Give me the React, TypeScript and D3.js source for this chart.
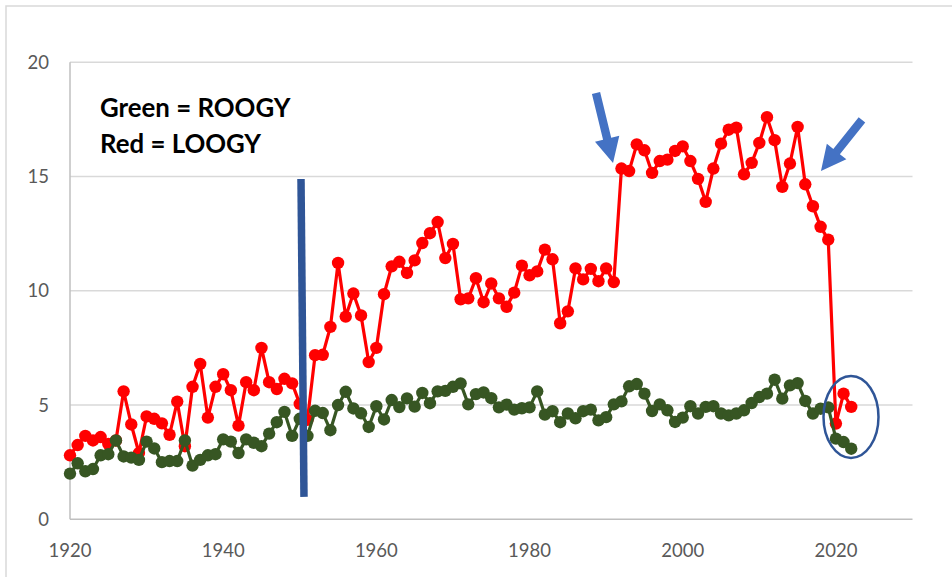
import React from "react";
import * as d3 from "d3";

const startYear = 1920;
const red: number[] = [
  2.8, 3.25, 3.65, 3.45, 3.6, 3.3, 3.45, 5.6, 4.15, 2.9,
  4.5, 4.4, 4.2, 3.7, 5.15, 3.2, 5.8, 6.8, 4.45, 5.8,
  6.35, 5.65, 4.1, 6.0, 5.65, 7.5, 6.0, 5.7, 6.15, 5.95,
  5.05, 4.35, 7.18, 7.2, 8.42, 11.22, 8.87, 9.88, 8.92, 6.88,
  7.5, 9.85, 11.07, 11.27, 10.78, 11.33, 12.09, 12.52, 13.01, 11.43,
  12.05, 9.63, 9.67, 10.55, 9.5, 10.32, 9.67, 9.3, 9.92, 11.1,
  10.68, 10.85, 11.8, 11.38, 8.58, 9.1, 10.98, 10.5, 10.96, 10.42,
  10.98, 10.38, 15.35, 15.24, 16.41, 16.15, 15.16, 15.68, 15.74, 16.12,
  16.32, 15.68, 14.9, 13.89, 15.35, 16.44, 17.05, 17.14, 15.1, 15.6,
  16.47, 17.6, 16.59, 14.55, 15.57, 17.17, 14.66, 13.7, 12.8, 12.24,
  4.19, 5.5, 4.92,
];
const green: number[] = [
  2.0, 2.45, 2.1, 2.2, 2.8, 2.85, 3.45, 2.75, 2.7, 2.6,
  3.4, 3.1, 2.5, 2.55, 2.55, 3.45, 2.35, 2.6, 2.8, 2.85,
  3.5, 3.4, 2.9, 3.5, 3.35, 3.2, 3.75, 4.25, 4.7, 3.65,
  4.4, 3.65, 4.75, 4.65, 3.9, 5.0, 5.58, 4.85, 4.64, 4.04,
  4.95, 4.37, 5.22, 4.91, 5.29, 4.93, 5.53, 5.08, 5.6, 5.62,
  5.8, 5.95, 5.03, 5.48, 5.55, 5.3, 4.9, 5.02, 4.8, 4.86,
  4.9, 5.6, 4.58, 4.73, 4.25, 4.63, 4.42, 4.73, 4.8, 4.33,
  4.47, 5.03, 5.16, 5.82, 5.92, 5.5, 4.74, 5.03, 4.77, 4.26,
  4.45, 4.95, 4.63, 4.92, 4.95, 4.63, 4.55, 4.63, 4.77, 5.09,
  5.35, 5.5, 6.11, 5.28, 5.86, 5.96, 5.18, 4.63, 4.84, 4.9,
  3.53, 3.38, 3.09,
];
const xTicks: number[] = [1920, 1940, 1960, 1980, 2000, 2020];
const yTicks: number[] = [0, 5, 10, 15, 20];
const legendLines: string[] = ["Green = ROOGY", "Red = LOOGY"];

// annotation anchors in data units: [year, value]
const divider: [number, number][] = [[1950.16, 14.89], [1950.55, 0.98]];
const arrows: [number, number, number, number][] = [
  [1988.68, 18.66, 1990.9, 15.59],
  [2023.4, 17.48, 2018.05, 15.24],
];
const circleAnchor: [number, number] = [2021.97, 4.48];

const W = 952;
const H = 577;

function arrowPath(x1: number, y1: number, x2: number, y2: number) {
  const dx = x2 - x1, dy = y2 - y1;
  const len = Math.hypot(dx, dy);
  const ux = dx / len, uy = dy / len;
  const nx = -uy, ny = ux;
  const shaftW = 4.2, headW = 12.5, headL = 25;
  const bx = x2 - ux * headL, by = y2 - uy * headL;
  const pts = [
    [x1 + nx * shaftW, y1 + ny * shaftW],
    [bx + nx * shaftW, by + ny * shaftW],
    [bx + nx * headW, by + ny * headW],
    [x2, y2],
    [bx - nx * headW, by - ny * headW],
    [bx - nx * shaftW, by - ny * shaftW],
    [x1 - nx * shaftW, y1 - ny * shaftW],
  ];
  return "M" + pts.map((p) => p.join(",")).join("L") + "Z";
}

export default function App() {
  const x = d3.scaleLinear().domain([1920, 2030]).range([70, 912.5]);
  const y = d3.scaleLinear().domain([0, 20]).range([519.3, 62.3]);
  const years = red.map((_, i) => startYear + i);
  const line = d3
    .line<number>()
    .x((_, i) => x(years[i]))
    .y((d) => y(d));

  const font = "Lato, 'Open Sans', sans-serif";

  return (
    <svg
      width={W}
      height={H}
      style={{ position: "absolute", left: 0, top: 0, background: "#fff" }}
    >
      <rect x={0} y={0} width={W} height={H} fill="#fff" />
      {/* chart frame */}
      <rect x={6} y={6} width={W + 20} height={H + 20} fill="none" stroke="#d9d9d9" strokeWidth={1.5} />

      {/* gridlines */}
      {yTicks.map((t) => (
        <line
          key={"g" + t}
          x1={x(1920)}
          x2={x(2030)}
          y1={y(t)}
          y2={y(t)}
          stroke={t === 0 ? "#bfbfbf" : "#d9d9d9"}
          strokeWidth={1.5}
        />
      ))}
      <line x1={x(1920)} x2={x(1920)} y1={y(20)} y2={y(0)} stroke="#bfbfbf" strokeWidth={1.5} />

      {/* y tick labels */}
      {yTicks.map((t) => (
        <text
          key={"yl" + t}
          x={49}
          y={y(t)}
          dy="0.35em"
          textAnchor="end"
          fontFamily={font}
          fontSize={18.5}
          fill="#595959"
        >
          {t}
        </text>
      ))}
      {/* x tick labels */}
      {xTicks.map((t) => (
        <text
          key={"xl" + t}
          x={x(t)}
          y={557}
          textAnchor="middle"
          fontFamily={font}
          fontSize={18.5}
          fill="#595959"
        >
          {t}
        </text>
      ))}

      {/* red series */}
      <path d={line(red) || ""} fill="none" stroke="#ff0000" strokeWidth={3.2} strokeLinejoin="round" />
      {red.map((v, i) => (
        <circle key={"r" + i} cx={x(years[i])} cy={y(v)} r={6.2} fill="#ff0000" />
      ))}

      {/* green series */}
      <path d={line(green) || ""} fill="none" stroke="#375623" strokeWidth={3.2} strokeLinejoin="round" />
      {green.map((v, i) => (
        <circle key={"gr" + i} cx={x(years[i])} cy={y(v)} r={6.2} fill="#375623" />
      ))}

      {/* legend text */}
      {legendLines.map((s, i) => (
        <text
          key={"lg" + i}
          x={100}
          y={117 + i * 36}
          fontFamily={font}
          fontWeight={700}
          fontSize={25.8}
          fill="#000"
        >
          {s}
        </text>
      ))}

      {/* divider */}
      <line
        x1={x(divider[0][0])}
        y1={y(divider[0][1])}
        x2={x(divider[1][0])}
        y2={y(divider[1][1])}
        stroke="#2f5597"
        strokeWidth={7.5}
      />

      {/* arrows */}
      {arrows.map((a, i) => (
        <path key={"a" + i} d={arrowPath(x(a[0]), y(a[1]), x(a[2]), y(a[3]))} fill="#4472c4" />
      ))}

      {/* ellipse */}
      <ellipse
        cx={x(circleAnchor[0])}
        cy={y(circleAnchor[1])}
        rx={27.5}
        ry={41}
        fill="none"
        stroke="#2f5597"
        strokeWidth={2.5}
      />
    </svg>
  );
}
